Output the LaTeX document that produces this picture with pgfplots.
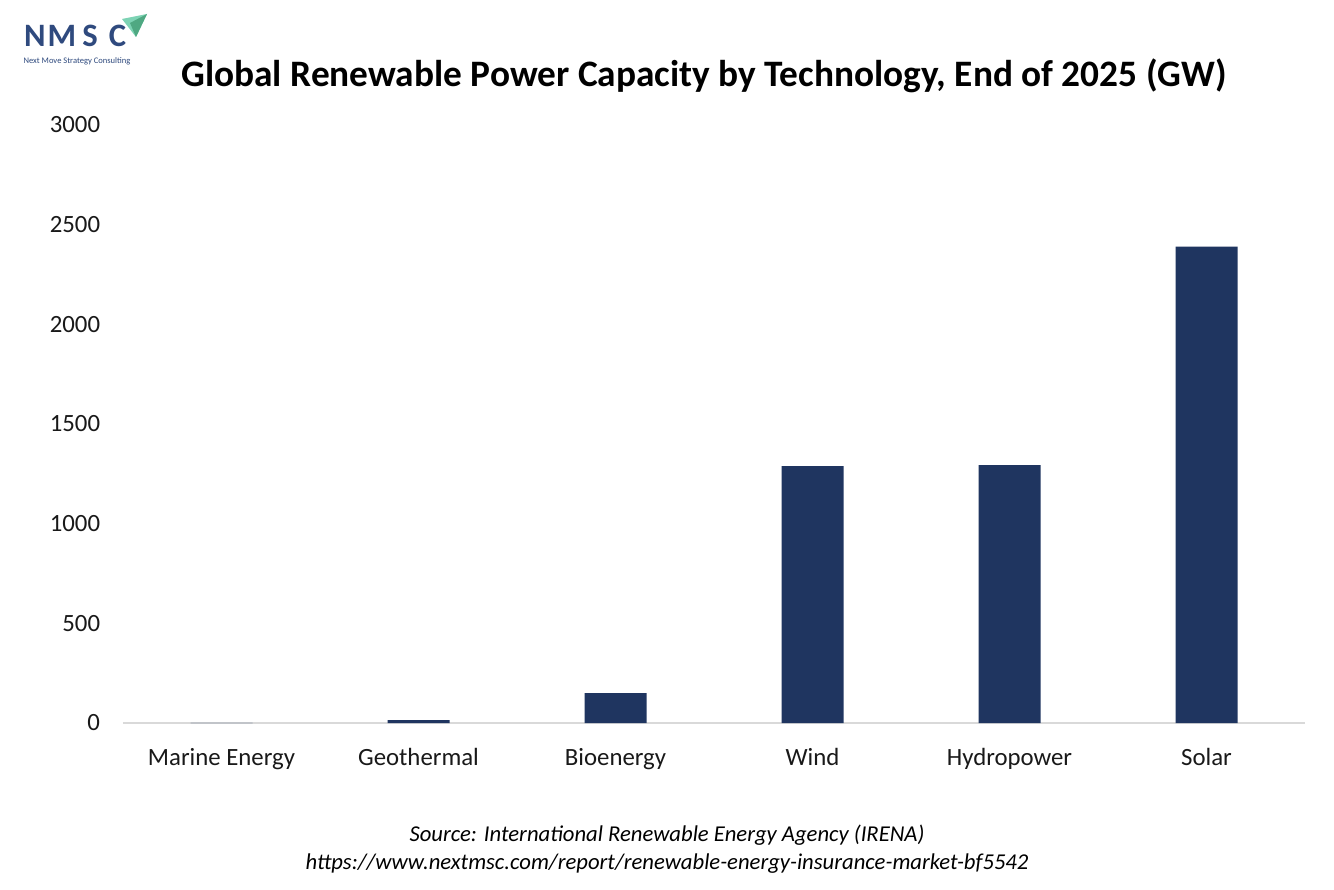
\documentclass[border=0pt]{standalone}
\usepackage{pgfplots}
\pgfplotsset{compat=1.18}
\usepackage{fontspec}
\setmainfont{Carlito}
\definecolor{barblue}{HTML}{1F3560}
\definecolor{logoblue}{HTML}{2F4A7E}
\definecolor{tealA}{HTML}{7DD3B4}
\definecolor{tealB}{HTML}{4FA882}
\definecolor{axgray}{HTML}{D9D9D9}
\begin{document}
\begin{tikzpicture}[x=0.75pt,y=0.75pt]
\path[use as bounding box, fill=white] (0,0) rectangle (1334,889);
% logo
\fill[tealA] (122,870) -- (147,875) -- (136,852) -- cycle;
\fill[tealB] (130,866) -- (147,875) -- (136,852) -- cycle;
\foreach \l/\xx in {N/35,M/62,S/90,C/117.5}{
  \node[font=\fontsize{24.5}{24}\selectfont\bfseries, text=logoblue, inner sep=0, anchor=base] at (\xx,842) {\l};
}
\node[font=\fontsize{6.4}{7}\selectfont, text=logoblue, inner sep=0, anchor=base] at (77,825) {Next Move Strategy Consulting};
% title
\node[font=\fontsize{28}{32}\selectfont\bfseries, inner sep=0, anchor=base] at (704,802) {Global Renewable Power Capacity by Technology, End of 2025 (GW)};
\begin{axis}[
  at={(92.25pt,124.5pt)}, anchor=south west,
  scale only axis, width=886.5pt, height=448.5pt,
  xmin=-0.5, xmax=5.5, ymin=0, ymax=3000,
  ytick={0,500,...,3000},
  xtick={0,1,2,3,4,5},
  xticklabels={Marine Energy,Geothermal,Bioenergy,Wind,Hydropower,Solar},
  major tick length=0,
  axis y line*=left,
  axis x line*=bottom,
  y axis line style={draw=none},
  x axis line style={axgray, line width=1.2pt, -},
  /pgf/number format/assume math mode=true,
  /pgf/number format/1000 sep={},
  tick label style={font=\fontsize{18.6}{20}\selectfont, text=black!90},
  xticklabel style={inner sep=0, anchor=north, yshift=-18.8pt},
  yticklabel style={inner sep=0, anchor=east, xshift=-17pt},
  ybar, bar width=46.5pt,
  clip=false,
]
\addplot[fill=barblue, draw=none] coordinates {(0,0.5) (1,15) (2,150) (3,1289) (4,1294) (5,2390)};
\end{axis}
\node[font=\fontsize{17}{20}\selectfont\itshape, inner sep=0, anchor=base] at (667,48) {Source: International Renewable Energy Agency (IRENA)};
\node[font=\fontsize{17}{20}\selectfont\itshape, inner sep=0, anchor=base] at (667,20) {https://www.nextmsc.com/report/renewable-energy-insurance-market-bf5542};
\end{tikzpicture}
\end{document}
